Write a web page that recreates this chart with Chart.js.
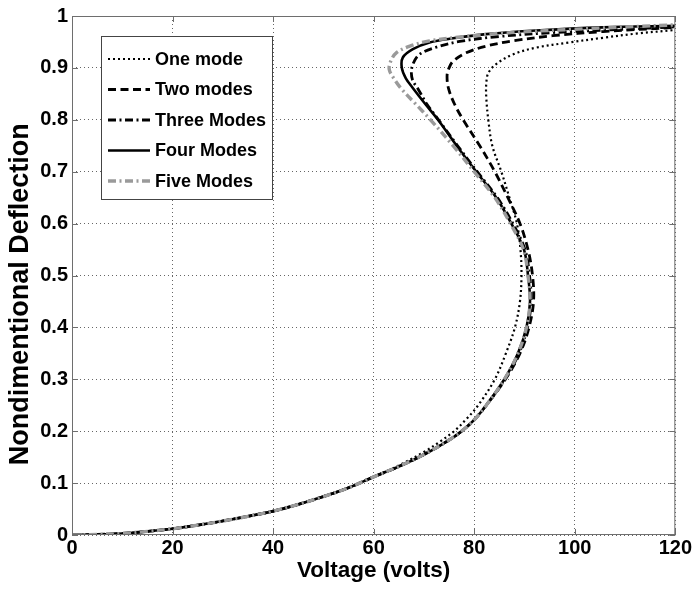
<!DOCTYPE html>
<html>
<head>
<meta charset="utf-8">
<script src="https://cdn.jsdelivr.net/npm/chart.js@4/dist/chart.umd.min.js"></script>
<style>
html,body{margin:0;padding:0;background:#ffffff;}
#wrap{width:693px;height:590px;position:relative;}
</style>
</head>
<body>
<div id="wrap"><canvas id="c" width="693" height="590"></canvas></div>
<script>
// ---------- data ----------
const seriesNames = ['One mode', 'Two modes', 'Three Modes', 'Four Modes', 'Five Modes'];
const xTickValues = [0, 20, 40, 60, 80, 100, 120];
const yTickLabels = ['0', '0.1', '0.2', '0.3', '0.4', '0.5', '0.6', '0.7', '0.8', '0.9', '1'];

// shared lower branch (all models coincide)
const lowerVoltage    = [0, 5, 10, 15, 20, 25, 30, 35, 40, 45, 50, 55, 60];
const lowerDeflection = [0, 0.001, 0.003, 0.007, 0.012, 0.019, 0.027, 0.036, 0.046, 0.059, 0.074, 0.091, 0.112];

const oneModeVoltage    = [65, 70, 73.2, 76, 78.6, 80.8, 84.1, 86.3, 88.1, 89.1, 89.4, 89.2, 88.5, 87.0, 85.4, 83.6, 82.8, 82.4, 82.4, 82.8, 84.3, 87.7, 92.3, 98.9, 105.6, 112.2, 120];
const oneModeDeflection = [0.134, 0.16, 0.18, 0.2, 0.225, 0.25, 0.3, 0.35, 0.4, 0.45, 0.5, 0.55, 0.6, 0.65, 0.7, 0.75, 0.8, 0.843, 0.87, 0.89, 0.907, 0.926, 0.939, 0.949, 0.958, 0.966, 0.973];

const twoModesVoltage    = [65, 70, 75, 77.5, 80, 82.4, 86.2, 89.1, 90.9, 91.8, 91.6, 90.7, 89.1, 86.7, 84.1, 81.1, 77.8, 76.1, 74.9, 74.6, 75.0, 75.8, 78.4, 82.4, 87.7, 95.6, 105.6, 120];
const twoModesDeflection = [0.132, 0.155, 0.183, 0.2, 0.222, 0.25, 0.3, 0.35, 0.4, 0.45, 0.5, 0.55, 0.6, 0.65, 0.7, 0.75, 0.8, 0.83, 0.86, 0.885, 0.9, 0.913, 0.929, 0.942, 0.952, 0.962, 0.970, 0.978];

const threeModesVoltage    = [65, 70, 75, 77.5, 80, 82.4, 86.1, 88.9, 90.6, 91.3, 91.0, 90.1, 87.7, 84.6, 80.6, 76.7, 72.9, 70.6, 68.8, 67.8, 67.5, 67.8, 69.1, 72.5, 77.1, 84.4, 95.6, 108.9, 120];
const threeModesDeflection = [0.132, 0.155, 0.183, 0.2, 0.222, 0.25, 0.3, 0.35, 0.4, 0.45, 0.5, 0.55, 0.6, 0.65, 0.7, 0.75, 0.8, 0.83, 0.86, 0.875, 0.89, 0.907, 0.926, 0.94, 0.951, 0.96, 0.968, 0.974, 0.979];

const fourModesVoltage    = [65, 70, 75, 77.5, 80, 82.4, 86.0, 88.7, 90.4, 91.1, 90.7, 89.9, 87.4, 84.4, 80.4, 76.5, 72.8, 70.3, 67.9, 66.4, 65.6, 65.8, 67.8, 71.1, 75.8, 82.4, 92.3, 105.6, 120];
const fourModesDeflection = [0.132, 0.155, 0.183, 0.2, 0.222, 0.25, 0.3, 0.35, 0.4, 0.45, 0.5, 0.55, 0.6, 0.65, 0.7, 0.75, 0.8, 0.83, 0.86, 0.88, 0.9, 0.92, 0.936, 0.949, 0.957, 0.965, 0.972, 0.978, 0.981];

const fiveModesVoltage    = [65, 70, 75, 77.5, 80, 82.4, 86.0, 88.7, 90.4, 91.1, 90.7, 89.8, 87.2, 84.1, 80.0, 75.8, 71.3, 68.4, 65.5, 64.0, 63.1, 63.4, 64.5, 67.2, 71.1, 77.7, 85.7, 98.9, 120];
const fiveModesDeflection = [0.132, 0.155, 0.183, 0.2, 0.222, 0.25, 0.3, 0.35, 0.4, 0.45, 0.5, 0.55, 0.6, 0.65, 0.7, 0.75, 0.8, 0.83, 0.86, 0.88, 0.897, 0.913, 0.929, 0.942, 0.952, 0.96, 0.967, 0.974, 0.983];

// ---------- helpers ----------
function toPoints(vs, ds) {
  const pts = [];
  for (let i = 0; i < vs.length; i++) pts.push({x: vs[i], y: ds[i]});
  return pts;
}
function withLower(vs, ds) {
  return toPoints(lowerVoltage.concat(vs), lowerDeflection.concat(ds));
}

const FONT = "'Liberation Sans', Arial, Helvetica, sans-serif";
const AXIS_GREY = '#6e6e6e';

const styles = [
  {color: '#000000', width: 2.2, dash: [2, 3]},
  {color: '#000000', width: 2.8, dash: [8, 4.5]},
  {color: '#000000', width: 2.8, dash: [8, 3.5, 2, 3.5]},
  {color: '#000000', width: 2.6, dash: []},
  {color: '#9a9a9a', width: 3.4, dash: [8, 3.5, 2, 3.5]}
];

const seriesData = [
  withLower(oneModeVoltage, oneModeDeflection),
  withLower(twoModesVoltage, twoModesDeflection),
  withLower(threeModesVoltage, threeModesDeflection),
  withLower(fourModesVoltage, fourModesDeflection),
  withLower(fiveModesVoltage, fiveModesDeflection)
];

const datasets = seriesNames.map((name, i) => ({
  label: name,
  data: seriesData[i],
  showLine: true,
  borderColor: styles[i].color,
  borderWidth: styles[i].width,
  borderDash: styles[i].dash,
  pointRadius: 0,
  pointHoverRadius: 0,
  tension: 0.35,
  fill: false,
  order: 5 - i
}));

// frame, inward ticks and in-plot legend
const framePlugin = {
  id: 'frameAndLegend',
  afterDatasetsDraw(chart) {
    const {ctx, chartArea: a, scales} = chart;
    ctx.save();
    ctx.strokeStyle = AXIS_GREY;
    ctx.lineWidth = 1;
    ctx.setLineDash([]);
    ctx.strokeRect(a.left + 0.5, a.top + 0.5, a.right - a.left - 1, a.bottom - a.top - 1);
    const tl = 6;
    ctx.beginPath();
    xTickValues.forEach(v => {
      const x = Math.round(scales.x.getPixelForValue(v)) + 0.5;
      ctx.moveTo(x, a.bottom); ctx.lineTo(x, a.bottom - tl);
      ctx.moveTo(x, a.top); ctx.lineTo(x, a.top + tl);
    });
    yTickLabels.forEach(t => {
      const y = Math.round(scales.y.getPixelForValue(parseFloat(t))) + 0.5;
      ctx.moveTo(a.left, y); ctx.lineTo(a.left + tl, y);
      ctx.moveTo(a.right, y); ctx.lineTo(a.right - tl, y);
    });
    ctx.stroke();

    // legend box
    const bx = a.left + 29, by = a.top + 20, bw = 171, bh = 163;
    ctx.fillStyle = '#ffffff';
    ctx.fillRect(bx, by, bw, bh);
    ctx.strokeStyle = '#444444';
    ctx.strokeRect(bx + 0.5, by + 0.5, bw, bh);
    ctx.font = 'bold 18px ' + FONT;
    ctx.textBaseline = 'middle';
    ctx.textAlign = 'left';
    chart.data.datasets.forEach((ds, i) => {
      const y = by + 23 + i * 30.5;
      ctx.beginPath();
      ctx.strokeStyle = ds.borderColor;
      ctx.lineWidth = ds.borderWidth;
      ctx.setLineDash(ds.borderDash);
      ctx.moveTo(bx + 7, y);
      ctx.lineTo(bx + 49, y);
      ctx.stroke();
      ctx.setLineDash([]);
      ctx.fillStyle = '#000000';
      ctx.fillText(ds.label, bx + 54, y + 1);
    });
    ctx.restore();
  }
};

const bgPlugin = {
  id: 'bg',
  beforeDraw(chart) {
    const {ctx, width, height} = chart;
    ctx.save();
    ctx.fillStyle = '#ffffff';
    ctx.fillRect(0, 0, width, height);
    ctx.restore();
  }
};

new Chart(document.getElementById('c'), {
  type: 'scatter',
  data: {datasets},
  plugins: [bgPlugin, framePlugin],
  options: {
    responsive: false,
    animation: false,
    events: [],
    layout: {padding: {left: 0, right: 17, top: 15, bottom: 0}},
    plugins: {legend: {display: false}, tooltip: {enabled: false}},
    scales: {
      x: {
        type: 'linear', min: 0, max: 120,
        afterBuildTicks: s => { s.ticks = xTickValues.map(v => ({value: v})); },
        afterFit: s => { s.height = 55; },
        ticks: {color: '#000', font: {family: FONT, size: 20, weight: 'bold'}, padding: 1,
                callback: v => String(v), maxRotation: 0},
        grid: {color: 'rgba(0,0,0,0.6)', lineWidth: 1, drawTicks: false},
        border: {display: false, dash: [1, 3]},
        title: {display: true, text: 'Voltage (volts)', color: '#000',
                font: {family: FONT, size: 22.5, weight: 'bold'}, padding: {top: 0, bottom: 6}}
      },
      y: {
        type: 'linear', min: 0, max: 1,
        afterBuildTicks: s => { s.ticks = yTickLabels.map(t => ({value: parseFloat(t)})); },
        afterFit: s => { s.width = 72; },
        ticks: {color: '#000', font: {family: FONT, size: 20, weight: 'bold'}, padding: 4,
                callback: (v, i) => yTickLabels[i]},
        grid: {color: 'rgba(0,0,0,0.6)', lineWidth: 1, drawTicks: false},
        border: {display: false, dash: [1, 3]},
        title: {display: true, text: 'Nondimentional Deflection\u00A0\u00A0\u00A0\u00A0\u00A0', color: '#000',
                font: {family: FONT, size: 27, weight: 'bold'}, padding: {top: 4, bottom: 0}}
      }
    }
  }
});
</script>
</body>
</html>
